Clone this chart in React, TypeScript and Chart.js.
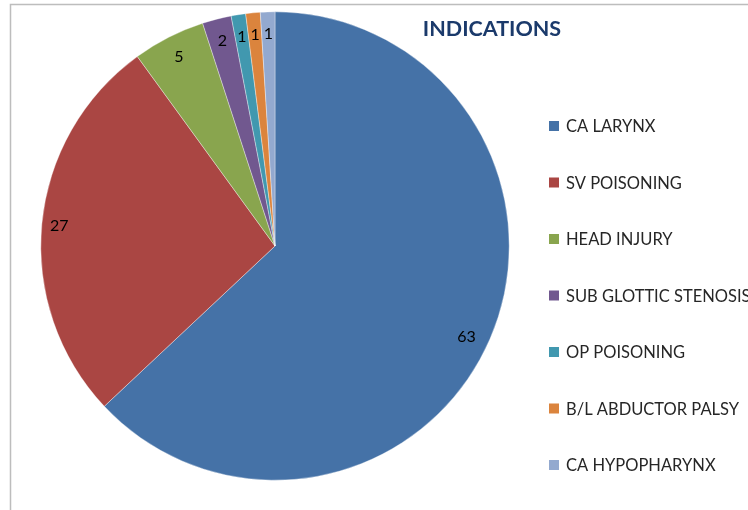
import React, { useEffect, useRef } from "react";
import { Chart, registerables } from "chart.js";

Chart.register(...registerables);

const categories = [
  "CA LARYNX",
  "SV POISONING",
  "HEAD INJURY",
  "SUB GLOTTIC STENOSIS",
  "OP POISONING",
  "B/L ABDUCTOR PALSY",
  "CA HYPOPHARYNX",
];
const values = [63, 27, 5, 2, 1, 1, 1];
const colors = ["#4572A7", "#AA4643", "#89A54E", "#71588F", "#4198AF", "#DB843D", "#93A9CF"];
const titleText = "INDICATIONS";

const FONT = "Lato, 'Open Sans', sans-serif";

const overlayPlugin = {
  id: "overlay",
  beforeDraw(chart: any) {
    const ctx = chart.ctx;
    ctx.save();
    ctx.fillStyle = "#ffffff";
    ctx.fillRect(0, 0, chart.width, chart.height);
    ctx.strokeStyle = "#BDBDBD";
    ctx.lineWidth = 1.5;
    ctx.beginPath();
    ctx.moveTo(10.5, chart.height + 2);
    ctx.lineTo(10.5, 4.5);
    ctx.lineTo(chart.width + 2, 4.5);
    ctx.stroke();
    ctx.restore();
  },
  afterDatasetsDraw(chart: any) {
    const ctx = chart.ctx;
    const meta = chart.getDatasetMeta(0);
    ctx.save();
    ctx.fillStyle = "#000000";
    ctx.font = `16px ${FONT}`;
    ctx.textAlign = "center";
    ctx.textBaseline = "middle";
    meta.data.forEach((arc: any, i: number) => {
      const p = arc.getProps(["x", "y", "startAngle", "endAngle", "outerRadius"], true);
      const mid = (p.startAngle + p.endAngle) / 2 + (i === 0 ? 0.035 : 0);
      const r = p.outerRadius * (i === 1 ? 0.925 : 0.905);
      ctx.fillText(String(values[i]), p.x + Math.cos(mid) * r, p.y + Math.sin(mid) * r);
    });
    // title
    ctx.fillStyle = "#1B3A6B";
    ctx.font = `bold 21.5px ${FONT}`;
    ctx.fillText(titleText, 492, 29);
    // legend
    ctx.textAlign = "left";
    ctx.font = `16.5px ${FONT}`;
    categories.forEach((c, i) => {
      const y = 126 + i * 56.5;
      ctx.fillStyle = colors[i];
      ctx.fillRect(549, y - 5, 10, 10);
      ctx.fillStyle = "#262626";
      ctx.fillText(c, 566, y + 1);
    });
    ctx.restore();
  },
};

export default function App() {
  const ref = useRef<HTMLCanvasElement | null>(null);
  useEffect(() => {
    if (!ref.current) return;
    const chart = new Chart(ref.current, {
      type: "pie",
      data: {
        labels: categories,
        datasets: [
          {
            data: values,
            backgroundColor: colors,
            borderColor: "rgba(255,255,255,0.6)",
            borderWidth: 0.6,
          },
        ],
      },
      options: {
        responsive: false,
        animation: false,
        layout: { padding: { left: 40.5, right: 238.5, top: 11.5, bottom: 29.5 } },
        plugins: {
          legend: { display: false },
          title: { display: false },
          tooltip: { enabled: false },
        },
      },
      plugins: [overlayPlugin],
    });
    return () => chart.destroy();
  }, []);
  return (
    <div style={{ position: "absolute", left: 0, top: 0, width: 748, height: 510 }}>
      <canvas ref={ref} width={748} height={510} style={{ width: 748, height: 510 }} />
    </div>
  );
}
